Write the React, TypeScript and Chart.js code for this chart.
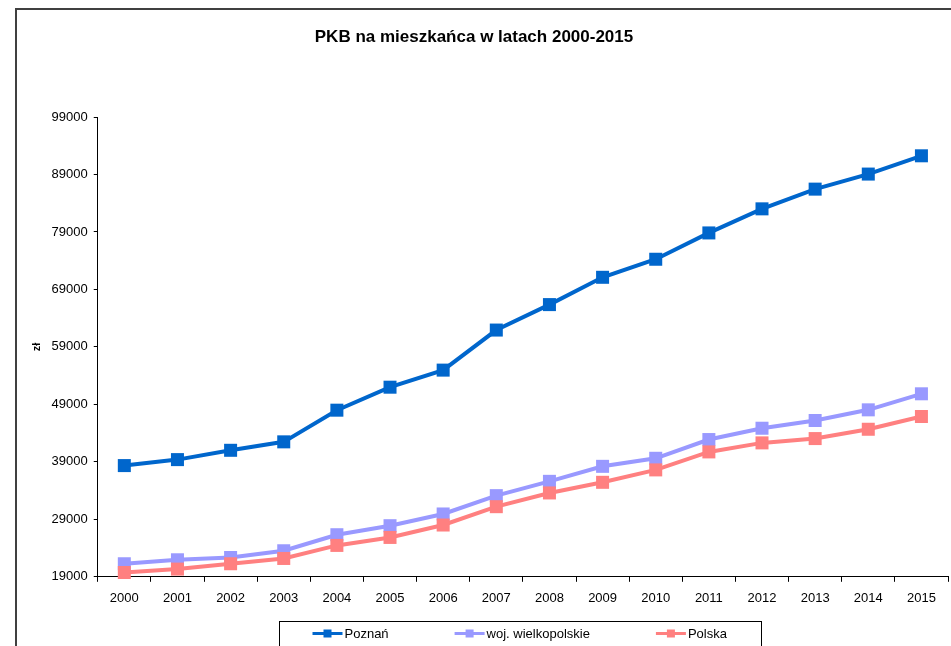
import React, { useEffect, useRef } from "react";
import { Chart, registerables } from "chart.js";

Chart.register(...registerables);

const categories = ["2000", "2001", "2002", "2003", "2004", "2005", "2006", "2007", "2008", "2009", "2010", "2011", "2012", "2013", "2014", "2015"];
const poznan = [38350, 39390, 41010, 42480, 47990, 51990, 54960, 61930, 66360, 71110, 74250, 78830, 83020, 86450, 89070, 92250];
const wielkopolskie = [21270, 21960, 22360, 23530, 26320, 27890, 29930, 33120, 35610, 38220, 39620, 42880, 44850, 46190, 48050, 50840];
const polska = [19750, 20340, 21270, 22190, 24460, 25850, 28010, 31200, 33590, 35440, 37600, 40730, 42300, 43050, 44670, 46890];
const seriesNames = ["Poznań", "woj. wielkopolskie", "Polska"];
const seriesColors = ["#0066CC", "#9999FF", "#FF8080"];
const seriesDrawOrder = [0, 2, 1];
const titleText = "PKB na mieszkańca w latach 2000-2015";
const yAxisTitle = "zł";
const yMin = 19000;
const yMax = 99000;
const yStep = 10000;

const FONT = "'Liberation Sans', Arial, sans-serif";

const titlePlugin = {
  id: "customTitle",
  afterDraw(chart: any) {
    const ctx = chart.ctx;
    ctx.save();
    ctx.font = `bold 17px ${FONT}`;
    ctx.fillStyle = "#000";
    ctx.textAlign = "center";
    ctx.textBaseline = "middle";
    ctx.fillText(titleText, chart.width / 2 - 10, 27);
    ctx.restore();
  },
};

const legendPlugin = {
  id: "customLegend",
  afterDraw(chart: any) {
    const ctx = chart.ctx;
    const area = chart.chartArea;
    ctx.save();
    ctx.font = `13px ${FONT}`;
    const lineLen = 30;
    const gap = 66;
    const pad = 33;
    const items = chart.data.datasets.map((ds: any) => ({
      label: ds.label,
      color: ds.borderColor,
      w: lineLen + 2 + ctx.measureText(ds.label).width,
    }));
    const total = items.reduce((s: number, it: any) => s + it.w, 0) + gap * (items.length - 1);
    const boxW = total + pad * 2 + 2;
    const cx = (area.left + area.right) / 2 - 3;
    const left = Math.round(cx - boxW / 2) + 0.5;
    const top = chart.height - 25 + 0.5;
    ctx.strokeStyle = "#000";
    ctx.lineWidth = 1;
    ctx.strokeRect(left, top, Math.round(boxW), 60);
    let x = left + pad;
    const y = top + 12;
    items.forEach((it: any) => {
      ctx.strokeStyle = it.color;
      ctx.lineWidth = 3;
      ctx.beginPath();
      ctx.moveTo(x, y);
      ctx.lineTo(x + lineLen, y);
      ctx.stroke();
      ctx.fillStyle = it.color;
      ctx.fillRect(x + lineLen / 2 - 4, y - 4, 8, 8);
      ctx.fillStyle = "#000";
      ctx.textAlign = "left";
      ctx.textBaseline = "middle";
      ctx.fillText(it.label, x + lineLen + 2, y + 1);
      x += it.w + gap;
    });
    ctx.restore();
  },
};

export default function App() {
  const canvasRef = useRef<HTMLCanvasElement | null>(null);

  useEffect(() => {
    if (!canvasRef.current) return;
    Chart.defaults.font.family = FONT;
    const seriesData = [poznan, wielkopolskie, polska];
    const chart = new Chart(canvasRef.current, {
      type: "line",
      data: {
        labels: categories,
        datasets: seriesNames.map((name, i) => ({
          label: name,
          data: seriesData[i],
          order: seriesDrawOrder[i],
          borderColor: seriesColors[i],
          backgroundColor: seriesColors[i],
          borderWidth: 4,
          pointStyle: "rect",
          pointRadius: 9.2,
          pointBorderWidth: 0,
          pointBackgroundColor: seriesColors[i],
          tension: 0,
          clip: false,
        })),
      },
      options: {
        animation: false,
        responsive: false,
        maintainAspectRatio: false,
        layout: { autoPadding: false, padding: { left: 4, right: 3, top: 107, bottom: 30.6 } },
        plugins: {
          legend: { display: false },
          title: { display: false },
          tooltip: { enabled: false },
        },
        scales: {
          x: {
            offset: true,
            afterFit: (scale: any) => {
              scale.paddingLeft = 0;
              scale.paddingRight = 0;
            },
            grid: {
              display: true,
              offset: true,
              drawOnChartArea: false,
              drawTicks: true,
              tickLength: 5,
              color: "#000",
            },
            border: { display: true, color: "#000", width: 1 },
            ticks: { color: "#000", font: { size: 13, family: FONT }, padding: 9, maxRotation: 0, autoSkip: false },
          },
          y: {
            min: yMin,
            max: yMax,
            grid: {
              display: true,
              drawOnChartArea: false,
              drawTicks: true,
              tickLength: 4,
              color: "#000",
            },
            border: { display: true, color: "#000", width: 1 },
            ticks: {
              stepSize: yStep,
              color: "#000",
              font: { size: 13, family: FONT },
              padding: 6,
              callback: (v: any) => String(v),
            },
            title: {
              display: true,
              text: yAxisTitle,
              color: "#000",
              font: { size: 11, weight: "bold", family: FONT },
              padding: { top: 9, bottom: 2.4 },
            },
          },
        },
      },
      plugins: [titlePlugin, legendPlugin],
    });
    return () => chart.destroy();
  }, []);

  return (
    <div
      style={{
        position: "fixed",
        left: 15,
        top: 8,
        width: 936,
        height: 638,
        boxSizing: "border-box",
        borderLeft: "2px solid #404040",
        borderTop: "2px solid #404040",
        overflow: "hidden",
        background: "#fff",
      }}
    >
      <canvas ref={canvasRef} width={934} height={636} style={{ display: "block" }} />
    </div>
  );
}
